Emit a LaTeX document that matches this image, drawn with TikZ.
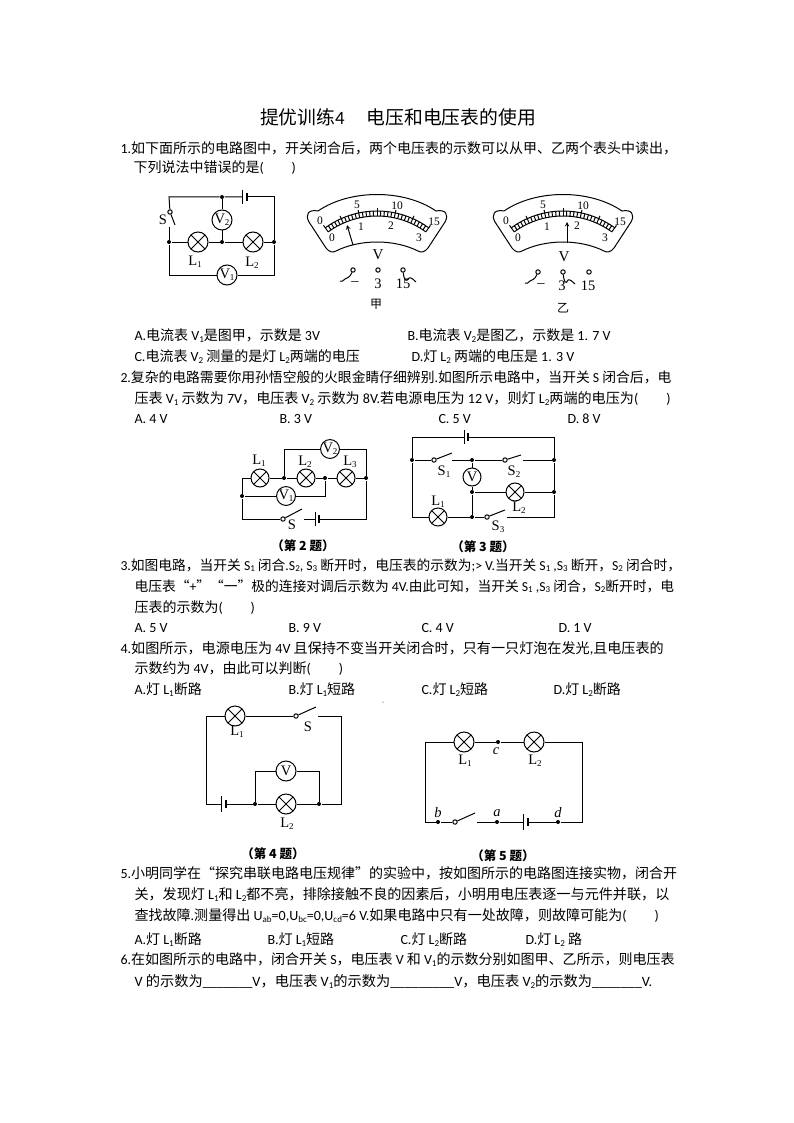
\documentclass[tikz,border=0pt]{standalone}
\usepackage{fontspec}
\setmainfont{Noto Sans CJK SC}
\newfontfamily\enfont{Carlito}
\newfontfamily\serfont{Liberation Serif}
\newcommand{\en}[1]{{\enfont #1}}
\newcommand{\low}[1]{\raisebox{-.3ex}{\fontsize{9}{9}\selectfont #1}}
\tikzset{
	txt/.style={anchor=base west,inner sep=0pt,font=\fontsize{14}{14}\selectfont},
	fs/.style={font=\fontsize{#1}{14}\selectfont},
	cptn/.style={inner sep=0pt,font=\fontsize{12.5}{13}\selectfont\bfseries},
	lbl/.style={inner sep=0pt,font=\fontsize{14.5}{14}\selectfont\serfont},
	lbli/.style={inner sep=0pt,font=\fontsize{14.5}{14}\selectfont\serfont\itshape},
	lamp/.style={circle,draw,inner sep=0pt,minimum size=#1,path picture={
		\draw (path picture bounding box.north west) -- (path picture bounding box.south east)
		(path picture bounding box.north east) -- (path picture bounding box.south west);}},
	vmeter/.style={circle,draw,inner sep=0pt,minimum size=#1,font=\fontsize{14.5}{14}\selectfont\serfont},
	jn/.style={circle,fill,inner sep=0pt,minimum size=4pt},
	swc/.style={circle,draw,fill=white,inner sep=0pt,minimum size=4.4pt}
}
\newcommand{\voltface}[5]{
	\begin{scope}[shift={(#1,0)}]
		\draw (-59,211) .. controls (-27,189) and (27,189) .. (59,211)
			.. controls (69,209) and (72,215) .. (68,222) -- (51,248)
			.. controls (48,252) and (44,253) .. (41,251)
			.. controls (17,239) and (-17,239) .. (-41,251)
			.. controls (-44,253) and (-48,252) .. (-51,248) -- (-68,222)
			.. controls (-72,215) and (-69,209) .. (-59,211);
		\draw plot[domain=54:126,samples=24] ({88*cos(\x)},{299-88*sin(\x)});
		\draw plot[domain=54:126,samples=24] ({83*cos(\x)},{299-83*sin(\x)});
		\foreach \t in {0,...,30}{
			\pgfmathsetmacro{\ang}{126-2.4*\t}
			\draw ({83*cos(\ang)},{299-83*sin(\ang)}) -- ({88*cos(\ang)},{299-88*sin(\ang)});
		}
		\foreach \t in {0,5,...,30}{
			\pgfmathsetmacro{\ang}{126-2.4*\t}
			\draw ({88*cos(\ang)},{299-88*sin(\ang)}) -- ({91*cos(\ang)},{299-91*sin(\ang)});
		}
		\draw [-stealth] (#4,#5) -- (#2,#3);
		\foreach \xa/\ya/\ttl in {-57/221/0,-20/205/5,20/206/10,57/222/15,-45/238/0,-16/227/1,14/226/2,42/238/3}
			\node [inner sep=0pt,font=\fontsize{11.5}{12}\selectfont\serfont] at (\xa,\ya) {\ttl};
	\end{scope}
}
\begin{document}
\begin{tikzpicture}[x=1pt,y=-1pt,line width=1pt]
	\fill [white] (0,0) rectangle (794,1123);
	\useasboundingbox (0,0) rectangle (794,1123);

	% text
	\node [txt,anchor=base,fs=18.8] (title) at (398,125) {提优训练\en{4}\hspace{22pt}电压和电压表的使用};
	\node [txt] (q1a) at (120,154) {\en{1.}如下面所示的电路图中，开关闭合后，两个电压表的示数可以从甲、乙两个表头中读出，};
	\node [txt] (q1b) at (133,173) {下列说法中错误的是\en{(\hspace{2em})}};
	\node [txt] (q1A) at (134,340) {\en{A.}电流表 \en{V\low{1}}是图甲，示数是 \en{3V}};
	\node [txt] (q1B) at (407,340) {\en{B.}电流表 \en{V\low{2}}是图乙，示数是 \en{1. 7 V}};
	\node [txt] (q1C) at (134,361) {\en{C.}电流表 \en{V\low{2}} 测量的是灯 \en{L\low{2}}两端的电压};
	\node [txt] (q1D) at (411,361) {\en{D.}灯 \en{L\low{2}} 两端的电压是 \en{1. 3 V}};
	\node [txt,fs=13.8] (q2a) at (120,382) {\en{2.}复杂的电路需要你用孙悟空般的火眼金睛仔细辨别\en{.}如图所示电路中，当开关 \en{S} 闭合后，电};
	\node [txt,fs=14.1] (q2b) at (134,403) {压表 \en{V\low{1}} 示数为 \en{7V}，电压表 \en{V\low{2}} 示数为 \en{8V.}若电源电压为 \en{12 V}，则灯 \en{L\low{2}}两端的电压为\en{(\hspace{2em})}};
	\node [txt] (q2A) at (134,423) {\en{A. 4 V}};
	\node [txt] (q2B) at (279,423) {\en{B. 3 V}};
	\node [txt] (q2C) at (438,423) {\en{C. 5 V}};
	\node [txt] (q2D) at (567,423) {\en{D. 8 V}};
	\node [txt,fs=13.75] (q3a) at (120,570) {\en{3.}如图电路，当开关 \en{S\low{1}} 闭合\en{.S\low{2}, S\low{3}} 断开时，电压表的示数为\en{;> V.}当开关 \en{S\low{1} ,S\low{3}} 断开，\en{S\low{2}} 闭合时，};
	\node [txt,fs=13.75] (q3b) at (134,591) {电压表“\en{+}”“一”极的连接对调后示数为 \en{4V.}由此可知，当开关 \en{S\low{1} ,S\low{3}} 闭合，\en{S\low{2}}断开时，电};
	\node [txt] (q3c) at (134,612) {压表的示数为\en{(\hspace{2em})}};
	\node [txt] (q3A) at (134,632) {\en{A. 5 V}};
	\node [txt] (q3B) at (288,632) {\en{B. 9 V}};
	\node [txt] (q3C) at (421,632) {\en{C. 4 V}};
	\node [txt] (q3D) at (558,632) {\en{D. 1 V}};
	\node [txt,fs=14.1] (q4a) at (120,653) {\en{4.}如图所示，电源电压为 \en{4V} 且保持不变当开关闭合时，只有一只灯泡在发光\en{,}且电压表的};
	\node [txt] (q4b) at (134,673) {示数约为 \en{4V}，由此可以判断\en{(\hspace{2em})}};
	\node [txt] (q4A) at (134,694) {\en{A.}灯 \en{L\low{1}}断路};
	\node [txt] (q4B) at (288,694) {\en{B.}灯 \en{L\low{1}}短路};
	\node [txt] (q4C) at (421,694) {\en{C.}灯 \en{L\low{2}}短路};
	\node [txt] (q4D) at (553,694) {\en{D.}灯 \en{L\low{2}}断路};
	\node [txt] (q5a) at (120,878) {\en{5.}小明同学在“探究串联电路电压规律”的实验中，按如图所示的电路图连接实物，闭合开};
	\node [txt,fs=14.1] (q5b) at (134,899) {关，发现灯 \en{L\low{1}}和 \en{L\low{2}}都不亮，排除接触不良的因素后，小明用电压表逐一与元件并联，以};
	\node [txt,fs=14.05] (q5c) at (134,920) {查找故障\en{.}测量得出 \en{U\low{ab}=0,U\low{bc}=0,U\low{cd}=6 V.}如果电路中只有一处故障，则故障可能为\en{(\hspace{2em})}};
	\node [txt] (q5A) at (134,944) {\en{A.}灯 \en{L\low{1}}断路};
	\node [txt] (q5B) at (267,944) {\en{B.}灯 \en{L\low{1}}短路};
	\node [txt] (q5C) at (400,944) {\en{C.}灯 \en{L\low{2}}断路};
	\node [txt] (q5D) at (525,944) {\en{D.}灯 \en{L\low{2}} 路};
	\node [txt] (q6a) at (120,964) {\en{6.}在如图所示的电路中，闭合开关 \en{S}，电压表 \en{V} 和 \en{V\low{1}}的示数分别如图甲、乙所示，则电压表};
	\node [txt,fs=14.25] (q6b) at (134,986) {\en{V} 的示数为\en{\_\_\_\_\_\_\_V}，电压表 \en{V\low{1}}的示数为\en{\_\_\_\_\_\_\_\_\_V}，电压表 \en{V\low{2}}的示数为\en{\_\_\_\_\_\_\_V.}};
	\node [inner sep=0pt,circle,fill,minimum size=1pt] (speck) at (383,702) {};

	% first circuit
	\node [jn] (aTop) at (222,197) {}; \node [jn] (aMid) at (222,242) {};
	\node [jn] (aLeft) at (169,242) {}; \node [jn] (aRight) at (274,242) {};
	\node [lamp=20pt] (aL1) at (198,242) {}; \node [lamp=20pt] (aL2) at (253,242) {};
	\node [vmeter=20pt] (aV2) at (222,220) {V\low{2}};
	\node [vmeter=20pt] (aV1) at (227,275) {V\low{1}};
	\node [swc] (aS) at (170,212) {}; \coordinate (aSe) at (175,225); \coordinate (aSb) at (169,227);
	\coordinate (aTL) at (169,197); \coordinate (aTR) at (274,197);
	\coordinate (aBL) at (169,275); \coordinate (aBR) at (274,275);
	\coordinate (aBa) at (242,197); \coordinate (aBb) at (247,197);
	\draw (aS) -- (aTL) -- (aTop) -- (aBa); \draw (aBb) -- (aTR) -- (aRight) -- (aBR) -- (aV1) -- (aBL) -- (aLeft) -- (aSb);
	\draw (aS) -- (aSe);
	\draw (aTop) -- (aV2) -- (aMid); \draw (aLeft) -- (aL1) -- (aMid) -- (aL2) -- (aRight);
	\draw (aBa) ++(0,-7) -- ++(0,14); \draw [line width=1.6pt] (aBb) ++(0,-4) -- ++(0,8);
	\node [lbl] (aSl) at (163,220) {S};
	\node [lbl] (aL1l) at (195,262) {L\low{1}}; \node [lbl] (aL2l) at (252,263) {L\low{2}};

	% the two meter faces
	\voltface{377}{-30}{225}{-24}{245}
	\voltface{563}{4}{222}{4}{243}
	\node [inner sep=0pt,font=\fontsize{15}{15}\selectfont\serfont] (mAv) at (378,255) {V};
	\node [swc] (mAa) at (353,270) {}; \node [swc] (mAb) at (378,270) {}; \node [swc] (mAc) at (403,270) {};
	\node [lbl] (mAm) at (355,284) {–}; \node [lbl] (mAt) at (378,284) {3}; \node [lbl] (mAf) at (403,284) {15};
	\draw (mAa) .. controls (349,279) and (347,277) .. (345,279) .. controls (343,281) and (342,282) .. (340,281);
	\draw (mAc) .. controls (404,280) and (406,283) .. (409,278) .. controls (411,277) and (414,280) .. (416,282);
	\node [cptn,font=\fontsize{12}{12}\selectfont] (mAcap) at (376,304) {甲};
	\node [inner sep=0pt,font=\fontsize{15}{15}\selectfont\serfont] (mBv) at (564,257) {V};
	\node [swc] (mBa) at (538,272) {}; \node [swc] (mBb) at (563,272) {}; \node [swc] (mBc) at (589,272) {};
	\node [lbl] (mBm) at (541,286) {–}; \node [lbl] (mBt) at (562,286) {3}; \node [lbl] (mBf) at (588,286) {15};
	\draw (mBa) .. controls (534,281) and (532,279) .. (530,281) .. controls (528,283) and (527,284) .. (525,283);
	\draw (mBb) .. controls (564,282) and (566,285) .. (568,280) .. controls (570,279) and (573,282) .. (575,284);
	\node [cptn,font=\fontsize{12}{12}\selectfont] (mBcap) at (563,308) {乙};

	% second circuit
	\node [jn] (bA) at (284,478) {}; \node [jn] (bB) at (325,478) {}; \node [jn] (bC) at (366,478) {}; \node [jn] (bD) at (242,496) {};
	\node [lamp=18pt] (bL1) at (260,478) {}; \node [lamp=18pt] (bL2) at (306,478) {}; \node [lamp=18pt] (bL3) at (346,478) {};
	\node [vmeter=18pt] (bV2) at (330,449) {V\low{2}}; \node [vmeter=18pt] (bV1) at (286,496) {V\low{1}};
	\node [swc] (bS) at (283,519) {}; \coordinate (bSe) at (302,509); \coordinate (bSb) at (304,519);
	\coordinate (bBa) at (315,519); \coordinate (bBb) at (319,519);
	\coordinate (bTL) at (284,449); \coordinate (bTR) at (366,449); \coordinate (bBR) at (366,519);
	\coordinate (bBL) at (242,519); \coordinate (bML) at (242,478); \coordinate (bV1r) at (325,496);
	\draw (bA) -- (bTL) -- (bV2) -- (bTR) -- (bC) -- (bBR) -- (bBb);
	\draw (bBa) -- (bSb); \draw (bS) -- (bSe); \draw (bS) -- (bBL) -- (bD) -- (bML) -- (bL1) -- (bA) -- (bL2) -- (bB) -- (bL3) -- (bC);
	\draw (bD) -- (bV1) -- (bV1r) -- (bB);
	\draw (bBa) ++(0,-7) -- ++(0,14); \draw [line width=1.6pt] (bBb) ++(0,-4) -- ++(0,8);
	\node [lbl] (bL1l) at (259,461) {L\low{1}}; \node [lbl] (bL2l) at (305,462) {L\low{2}}; \node [lbl] (bL3l) at (350,462) {L\low{3}};
	\node [lbl] (bSl) at (292,525) {S};
	\node [cptn] (bcap) at (303,546) {（第 2 题）};

	% third circuit
	\node [jn] (cA) at (412,460) {}; \node [jn] (cB) at (472,460) {}; \node [jn] (cC) at (472,492) {}; \node [jn] (cD) at (472,517) {};
	\node [jn] (cE) at (554,492) {}; \node [jn] (cF) at (554,460) {};
	\node [vmeter=18pt] (cV) at (472,477) {V}; \node [lamp=18pt] (cL2) at (515,492) {}; \node [lamp=18pt] (cL1) at (438,517) {};
	\node [swc] (cS1) at (434,460) {}; \coordinate (cS1e) at (452,453); \coordinate (cS1b) at (452,460);
	\node [swc] (cS2) at (505,460) {}; \coordinate (cS2e) at (521,455); \coordinate (cS2b) at (523,460);
	\node [swc] (cS3) at (487,517) {}; \coordinate (cS3e) at (505,510); \coordinate (cS3b) at (507,517);
	\coordinate (cTL) at (412,437); \coordinate (cTR) at (554,437); \coordinate (cBL) at (412,517); \coordinate (cBR) at (554,517);
	\coordinate (cBa) at (464,437); \coordinate (cBb) at (468,437);
	\draw (cBa) -- (cTL) -- (cA) -- (cS1); \draw (cS1) -- (cS1e); \draw (cS1b) -- (cB) -- (cS2); \draw (cS2) -- (cS2e); \draw (cS2b) -- (cF);
	\draw (cBb) -- (cTR) -- (cF) -- (cE) -- (cBR) -- (cS3b); \draw (cS3) -- (cS3e);
	\draw (cA) -- (cBL) -- (cL1) -- (cD) -- (cS3);
	\draw (cB) -- (cV) -- (cC) -- (cD); \draw (cC) -- (cL2) -- (cE);
	\draw (cBa) ++(0,-7) -- ++(0,14); \draw [line width=1.6pt] (cBb) ++(0,-4) -- ++(0,8);
	\node [lbl] (cS1l) at (444,472) {S\low{1}}; \node [lbl] (cS2l) at (514,472) {S\low{2}}; \node [lbl] (cS3l) at (498,527) {S\low{3}};
	\node [lbl] (cL1l) at (438,502) {L\low{1}}; \node [lbl] (cL2l) at (519,508) {L\low{2}};
	\node [cptn] (ccap) at (483,547) {（第 3 题）};

	% fourth circuit
	\node [jn] (dA) at (255,804) {}; \node [jn] (dB) at (319,804) {};
	\node [lamp=20pt] (dL1) at (235,716) {}; \node [lamp=20pt] (dL2) at (286,804) {}; \node [vmeter=20pt] (dV) at (286,771) {V};
	\node [swc] (dS) at (296,716) {}; \coordinate (dSe) at (316,707); \coordinate (dSb) at (318,716);
	\coordinate (dTL) at (206,716); \coordinate (dTR) at (341,716); \coordinate (dBL) at (206,804); \coordinate (dBR) at (341,804);
	\coordinate (dVl) at (255,771); \coordinate (dVr) at (319,771);
	\coordinate (dBa) at (221,804); \coordinate (dBb) at (226,804);
	\draw (dL1) -- (dS); \draw (dS) -- (dSe); \draw (dSb) -- (dTR) -- (dBR) -- (dB) -- (dL2) -- (dA) -- (dBb);
	\draw (dL1) -- (dTL) -- (dBL) -- (dBa);
	\draw (dA) -- (dVl) -- (dV) -- (dVr) -- (dB);
	\draw (dBa) ++(0,-8) -- ++(0,16); \draw [line width=1.6pt] (dBb) ++(0,-4) -- ++(0,8);
	\node [lbl] (dL1l) at (237,732) {L\low{1}}; \node [lbl] (dSl) at (308,727) {S}; \node [lbl] (dL2l) at (287,824) {L\low{2}};
	\node [cptn] (dcap) at (273,854) {（第 4 题）};

	% fifth circuit
	\node [lamp=20pt] (eL1) at (464,742) {}; \node [lamp=20pt] (eL2) at (534,742) {};
	\node [jn] (eC) at (498,742) {}; \node [jn] (eB) at (438,822) {}; \node [jn] (eA) at (497,822) {}; \node [jn] (eD) at (558,822) {};
	\node [swc] (eS) at (455,822) {}; \coordinate (eSe) at (475,813); \coordinate (eSb) at (477,822);
	\coordinate (eTL) at (425,742); \coordinate (eTR) at (582,742); \coordinate (eBL) at (425,822); \coordinate (eBR) at (582,822);
	\coordinate (eBa) at (523,822); \coordinate (eBb) at (528,822);
	\draw (eS) -- (eB) -- (eBL) -- (eTL) -- (eL1) -- (eC) -- (eL2) -- (eTR) -- (eBR) -- (eD) -- (eBb);
	\draw (eS) -- (eSe); \draw (eSb) -- (eA) -- (eBa);
	\draw (eBa) ++(0,-8) -- ++(0,16); \draw [line width=1.6pt] (eBb) ++(0,-4) -- ++(0,8);
	\node [lbl] (eL1l) at (465,761) {L\low{1}}; \node [lbl] (eL2l) at (535,761) {L\low{2}};
	\node [lbli] (eCl) at (496,751) {c};
	\node [lbli] (eBl) at (438,813) {b};
	\node [lbli] (eAl) at (497,813) {a};
	\node [lbli] (eDl) at (558,813) {d};
	\node [cptn] (ecap) at (503,856) {（第 5 题）};
\end{tikzpicture}
\end{document}
